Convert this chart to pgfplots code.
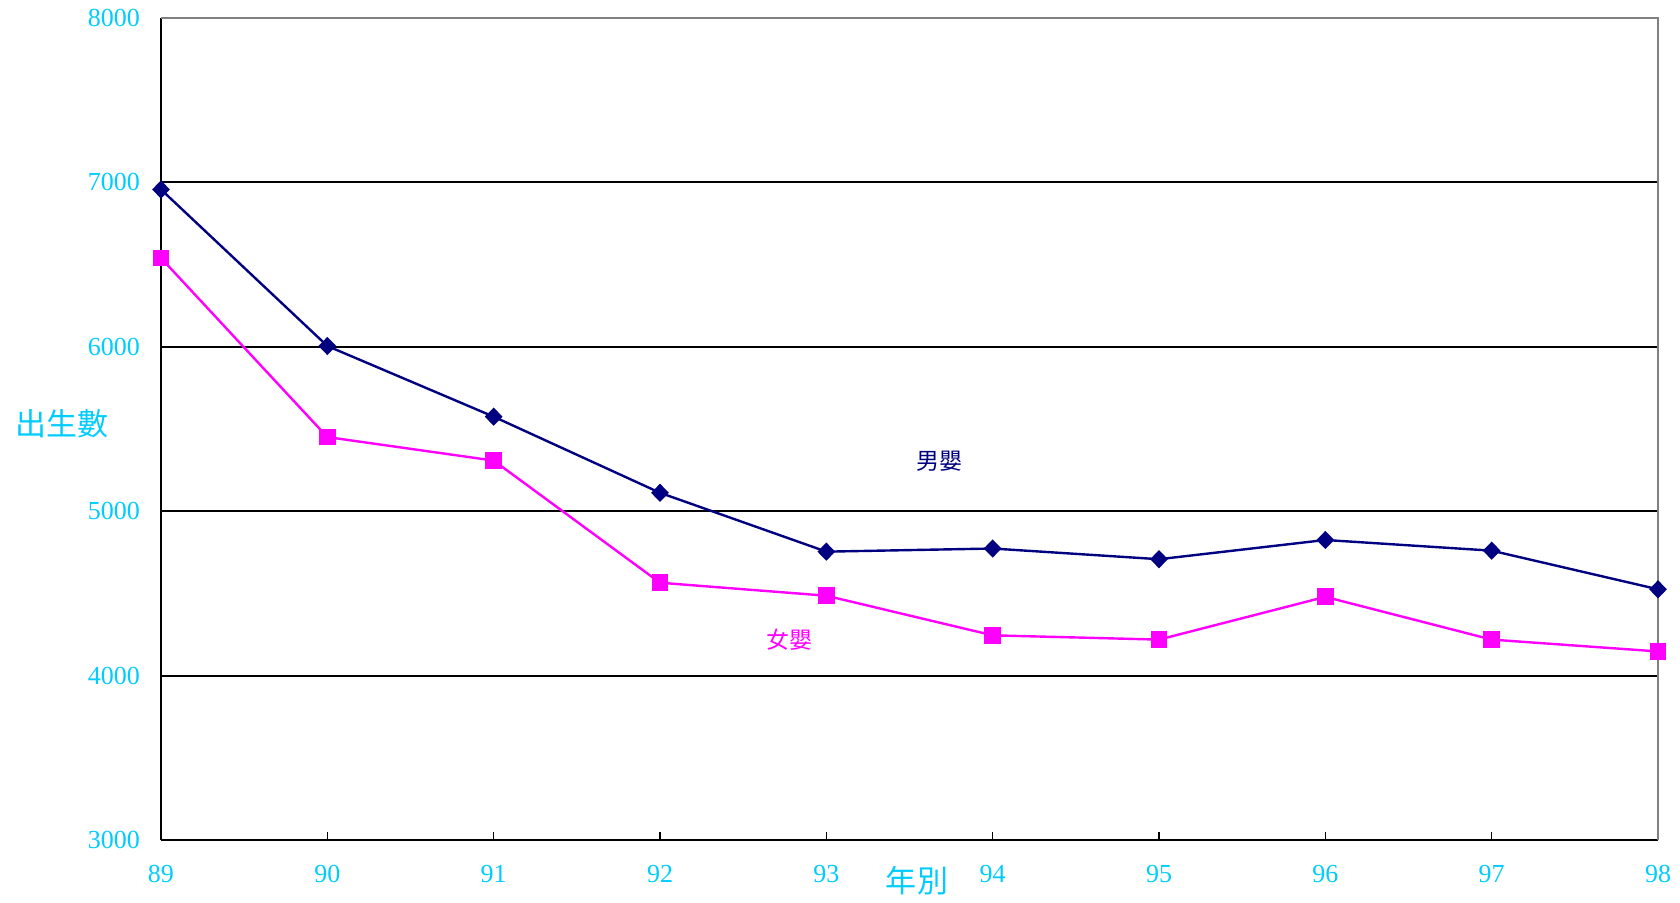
\documentclass[border=0pt]{standalone}
\usepackage{pgfplots}
\pgfplotsset{compat=1.18}
\usepackage{fontspec}
\setmainfont{Liberation Serif}
\newfontfamily\cjk{Noto Sans CJK TC}
\definecolor{tickcyan}{RGB}{0,204,255}
\definecolor{boynavy}{RGB}{0,0,128}
\definecolor{girlpink}{RGB}{255,0,255}

\begin{document}
\begin{tikzpicture}
\begin{axis}[
    scale only axis,
    width=748.5pt, height=411pt,
    xmin=89, xmax=98, ymin=3000, ymax=8000,
    xtick={89,...,98}, ytick={3000,4000,...,8000},
    axis x line*=bottom, axis y line*=left,
    x axis line style={line width=1.2pt, -},
    y axis line style={line width=1pt, -},
    ymajorgrids, grid style={black, line width=1pt},
    xtick style={black, line width=0.8pt},
    xtick pos=bottom, tick align=inside,
    major tick length=4pt,
    ytick style={draw=none},
    /pgf/number format/assume math mode=true,
    /pgf/number format/set thousands separator={},
    ticklabel style={font=\fontsize{13}{15}\selectfont, text=tickcyan},
    xticklabel style={yshift=-9pt},
    yticklabel style={xshift=-7pt},
    xlabel={\cjk 年別},
    ylabel={\cjk 出生數},
    label style={font=\fontsize{15.5}{17}\selectfont, text=tickcyan},
    xlabel style={at={(axis description cs:0.505,-0.05)}, anchor=center},
    ylabel style={at={(axis description cs:-0.066,0.506)}, anchor=center, rotate=-90},
    clip=false,
]
\draw[gray, line width=0.8pt] (rel axis cs:0,1) -- (rel axis cs:1,1) -- (rel axis cs:1,0);
% 男嬰
\addplot[boynavy, line width=1.2pt, mark=diamond*, mark size=3.7pt, mark options={solid, xscale=1.3}] coordinates {
    (89,6957) (90,6005) (91,5575) (92,5112) (93,4754)
    (94,4773) (95,4708) (96,4825) (97,4760) (98,4525)
};
% 女嬰
\addplot[girlpink, line width=1.2pt, mark=square*, mark size=3.6pt] coordinates {
    (89,6540) (90,5451) (91,5308) (92,4565) (93,4486)
    (94,4245) (95,4219) (96,4479) (97,4219) (98,4147)
};
\node[text=boynavy, font=\cjk\fontsize{11.5}{13}\selectfont] at (axis cs:93.68,5305) {男嬰};
\node[text=girlpink, font=\cjk\fontsize{11.5}{13}\selectfont] at (axis cs:92.78,4217) {女嬰};
\end{axis}
\pgfresetboundingbox
\path[use as bounding box] (-80.5pt,-31pt) rectangle (759.5pt,420pt);
\end{tikzpicture}
\end{document}
